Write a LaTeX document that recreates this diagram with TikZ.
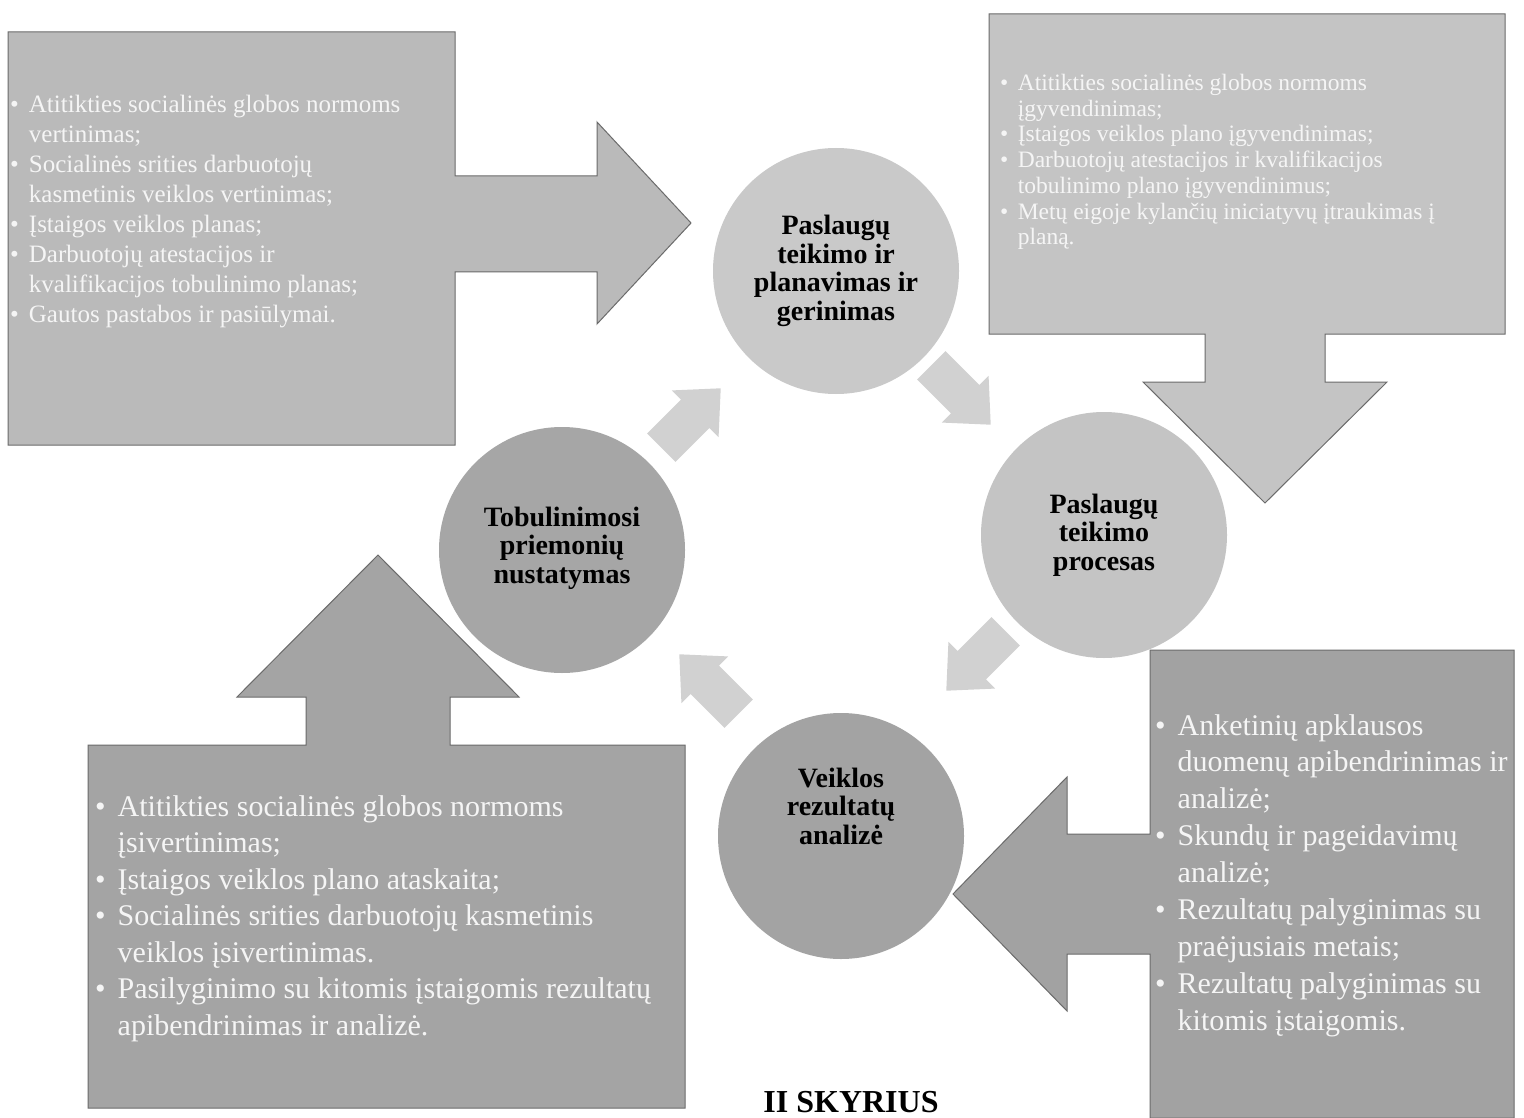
\documentclass[tikz,border=0pt]{standalone}
\usepackage{fontspec}
\setmainfont{Liberation Serif}
\definecolor{tlbox}{gray}{0.73}
\definecolor{trbox}{gray}{0.77}
\definecolor{blbox}{gray}{0.645}
\definecolor{brbox}{gray}{0.635}
\definecolor{ctop}{gray}{0.79}
\definecolor{cright}{gray}{0.77}
\definecolor{cleft}{gray}{0.65}
\definecolor{cbot}{gray}{0.64}
\definecolor{sarrow}{gray}{0.82}
\definecolor{edgecol}{gray}{0.42}
\definecolor{txtw}{gray}{0.96}
\newcommand\bu{\makebox[0.75em][l]{•}}
\newcommand\ind{\hspace*{0.75em}}
\begin{document}
\begin{tikzpicture}[x=1pt,y=-1pt,
  bigarrow/.style={draw=edgecol, line width=1pt, line join=miter},
  boxtext/.style={text=txtw, align=left, inner sep=0pt, anchor=north west},
  cyc/.style={circle, minimum size=246pt, inner sep=0pt},
  cyclabel/.style={font=\bfseries\fontsize{28}{28.5}\selectfont, align=center, text=black, inner sep=0pt},
  smallarrow/.style={fill=sarrow}]
\useasboundingbox (0,0) rectangle (1524,1118);
\fill[white] (0,0) rectangle (1524,1118);

% top-left callout with right arrow
\filldraw[bigarrow, fill=tlbox] (8,32) -- (455,32) -- (455,176) -- (597,176) -- (597,122)
  -- (691,223) -- (597,324) -- (597,272) -- (455,272) -- (455,445) -- (8,445) -- cycle;
% top-right callout with down arrow
\filldraw[bigarrow, fill=trbox] (989,14) -- (1505,14) -- (1505,334) -- (1325,334) -- (1325,382)
  -- (1387,382) -- (1265,503) -- (1143,382) -- (1205,382) -- (1205,334) -- (989,334) -- cycle;
% bottom-left callout with up arrow
\filldraw[bigarrow, fill=blbox] (88,745) -- (306,745) -- (306,697) -- (237,697) -- (378,555)
  -- (519,697) -- (450,697) -- (450,745) -- (685,745) -- (685,1108) -- (88,1108) -- cycle;
% bottom-right callout with left arrow
\filldraw[bigarrow, fill=brbox] (1150,650) -- (1514,650) -- (1514,1118) -- (1150,1118) -- (1150,954)
  -- (1067,954) -- (1067,1011) -- (953,894) -- (1067,777) -- (1067,834) -- (1150,834) -- cycle;

% cycle circles
\node[cyc, fill=ctop] (top) at (836,271) {};
\node[cyc, fill=cright] (right) at (1104,535) {};
\node[cyc, fill=cbot] (bottom) at (841,836) {};
\node[cyc, fill=cleft] (left) at (562,550) {};

\node[cyclabel] (toptext) at (836,271) {Paslaugų\\teikimo ir\\planavimas ir\\gerinimas};
\node[cyclabel] (righttext) at (1104,535) {Paslaugų\\teikimo\\procesas};
\node[cyclabel] (bottomtext) at (841,806) {Veiklos\\rezultatų\\analizė};
\node[cyclabel] (lefttext) at (562,548) {Tobulinimosi\\priemonių\\nustatymas};

% small cycle arrows
\fill[smallarrow, shift={(691,418)}, rotate=45] (-42,-20) -- (6,-20) -- (6,-33) -- (42,0) -- (6,33) -- (6,20) -- (-42,20) -- cycle;
\fill[smallarrow, shift={(961,395)}, rotate=-45] (-42,-20) -- (6,-20) -- (6,-33) -- (42,0) -- (6,33) -- (6,20) -- (-42,20) -- cycle;
\fill[smallarrow, shift={(976,661)}, rotate=-135] (-42,-20) -- (6,-20) -- (6,-33) -- (42,0) -- (6,33) -- (6,20) -- (-42,20) -- cycle;
\fill[smallarrow, shift={(709,684)}, rotate=135] (-42,-20) -- (6,-20) -- (6,-33) -- (42,0) -- (6,33) -- (6,20) -- (-42,20) -- cycle;

% box texts
\node[boxtext, font=\fontsize{25}{30}\selectfont] (tltext) at (10,95)
 {\bu Atitikties socialinės globos normoms\\
  \ind vertinimas;\\
  \bu Socialinės srities darbuotojų\\
  \ind kasmetinis veiklos vertinimas;\\
  \bu Įstaigos veiklos planas;\\
  \bu Darbuotojų atestacijos ir\\
  \ind kvalifikacijos tobulinimo planas;\\
  \bu Gautos pastabos ir pasiūlymai.};

\node[boxtext, font=\fontsize{23.5}{25.7}\selectfont] (trtext) at (1000,74)
 {\bu Atitikties socialinės globos normoms\\
  \ind įgyvendinimas;\\
  \bu Įstaigos veiklos plano įgyvendinimas;\\
  \bu Darbuotojų atestacijos ir kvalifikacijos\\
  \ind tobulinimo plano įgyvendinimus;\\
  \bu Metų eigoje kylančių iniciatyvų įtraukimas į\\
  \ind planą.};

\node[boxtext, font=\fontsize{30}{36.5}\selectfont] (bltext) at (95,795)
 {\bu Atitikties socialinės globos normoms\\
  \ind įsivertinimas;\\
  \bu Įstaigos veiklos plano ataskaita;\\
  \bu Socialinės srities darbuotojų kasmetinis\\
  \ind veiklos įsivertinimas.\\
  \bu Pasilyginimo su kitomis įstaigomis rezultatų\\
  \ind apibendrinimas ir analizė.};

\node[boxtext, font=\fontsize{30}{36.9}\selectfont] (brtext) at (1155,714)
 {\bu Anketinių apklausos\\
  \ind duomenų apibendrinimas ir\\
  \ind analizė;\\
  \bu Skundų ir pageidavimų\\
  \ind analizė;\\
  \bu Rezultatų palyginimas su\\
  \ind praėjusiais metais;\\
  \bu Rezultatų palyginimas su\\
  \ind kitomis įstaigomis.};

\node[font=\bfseries\fontsize{32}{34}\selectfont, anchor=base, inner sep=0pt] (chapter) at (851,1112) {II SKYRIUS};
\end{tikzpicture}
\end{document}
